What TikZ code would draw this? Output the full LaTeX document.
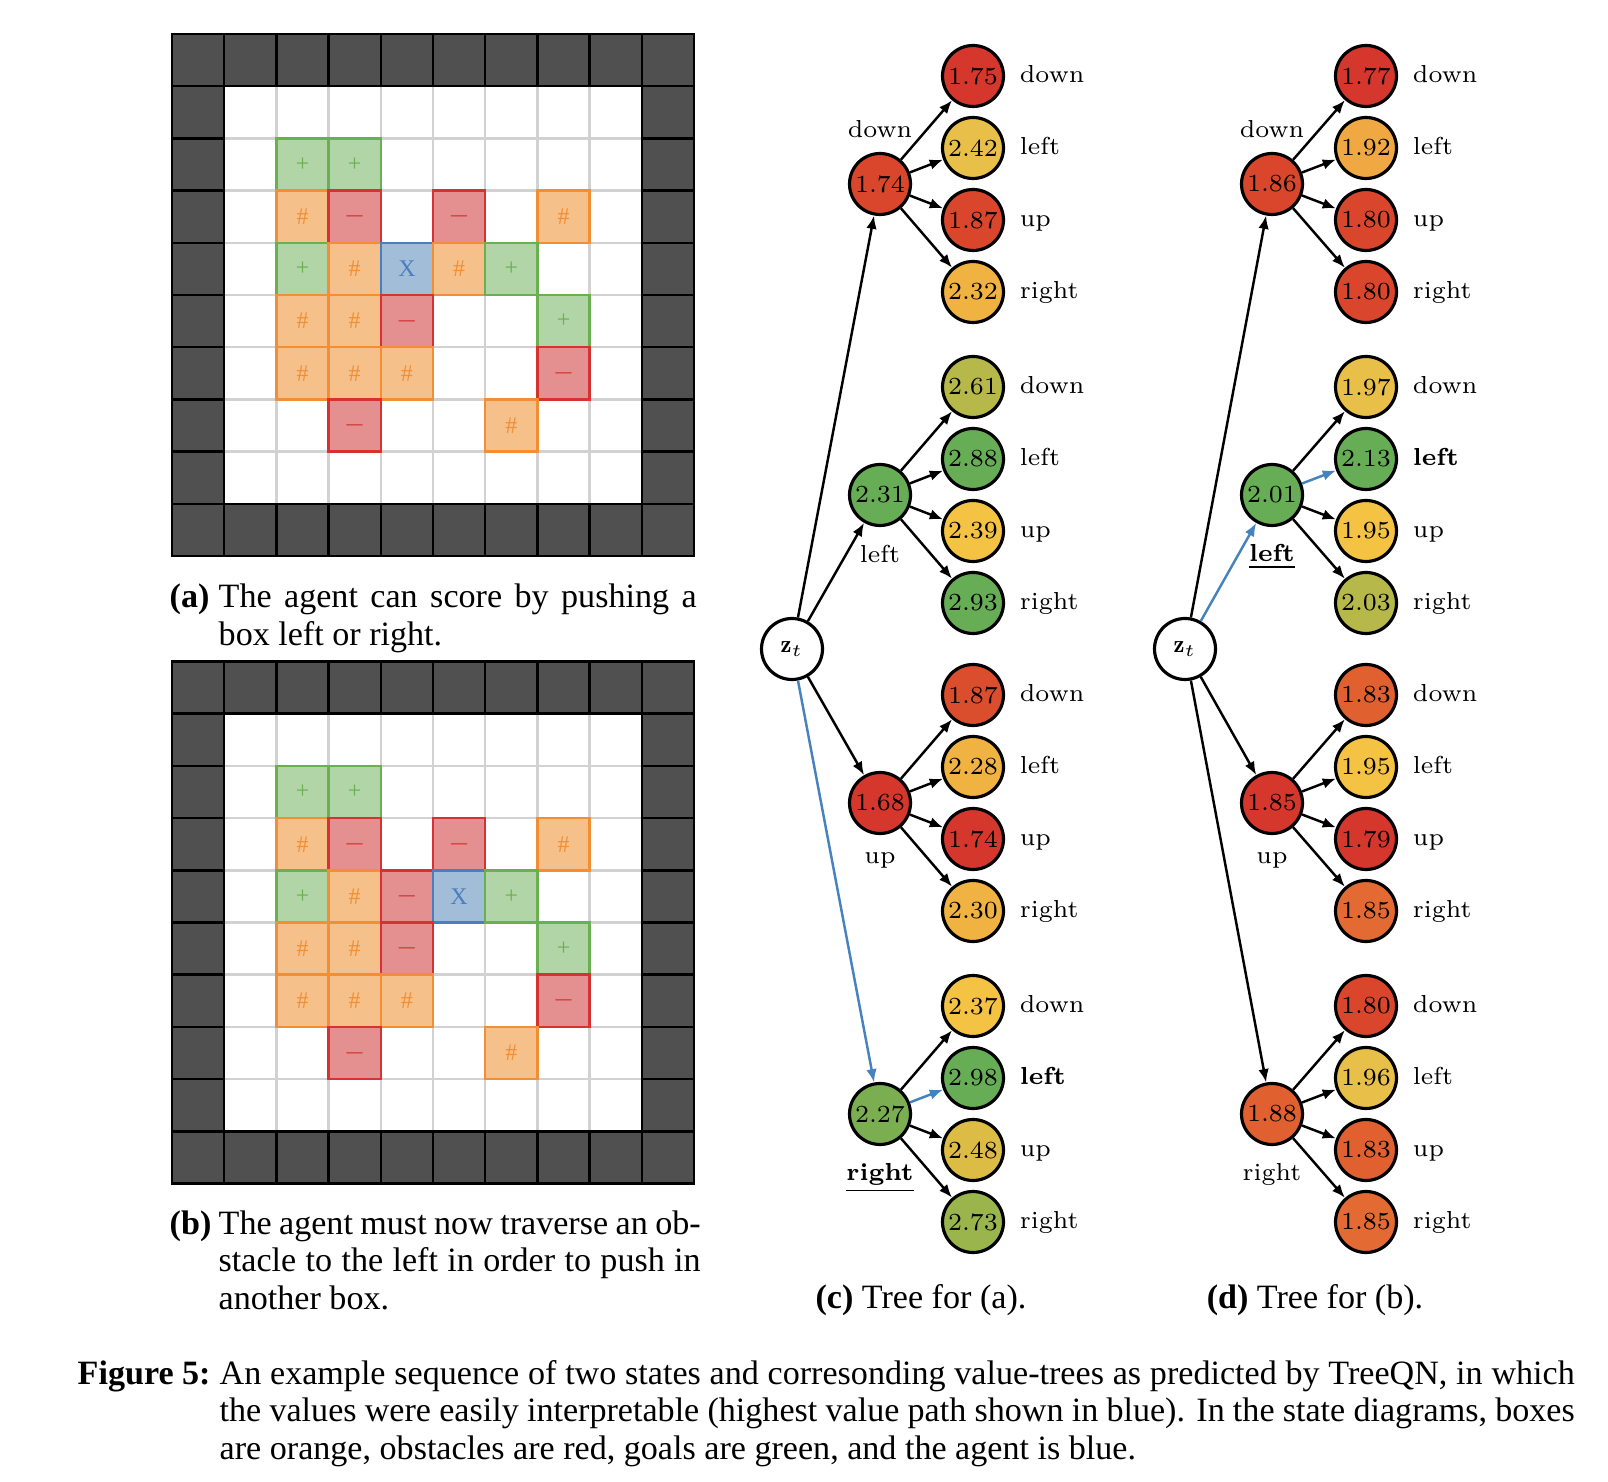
\documentclass[tikz,border=0pt]{standalone}
\usepackage{fontspec}
\usepackage{tikz}
\usetikzlibrary{arrows.meta}
\newfontfamily\capfont{Liberation Serif}

% grid colours
\definecolor{wallgray}{RGB}{80,80,80}
\definecolor{floorline}{RGB}{210,210,210}
\definecolor{goalfill}{RGB}{177,213,167}
\definecolor{goalline}{RGB}{106,176,80}
\definecolor{boxfill}{RGB}{245,192,137}
\definecolor{boxline}{RGB}{242,142,52}
\definecolor{obstfill}{RGB}{228,144,144}
\definecolor{obstline}{RGB}{214,50,50}
\definecolor{agentfill}{RGB}{161,189,216}
\definecolor{agentline}{RGB}{74,126,190}
% value colours
\definecolor{vred}{RGB}{214,55,44}
\definecolor{vredor}{RGB}{217,70,44}
\definecolor{vtomato}{RGB}{219,78,45}
\definecolor{vorange}{RGB}{224,97,47}
\definecolor{vcoral}{RGB}{227,107,51}
\definecolor{vamber}{RGB}{240,168,67}
\definecolor{vgold}{RGB}{240,178,65}
\definecolor{vyellow}{RGB}{245,195,68}
\definecolor{vmustard}{RGB}{232,192,73}
\definecolor{vkhaki}{RGB}{220,188,69}
\definecolor{volive}{RGB}{182,184,74}
\definecolor{vlime}{RGB}{154,181,76}
\definecolor{vleaf}{RGB}{122,174,80}
\definecolor{vgreen}{RGB}{103,173,86}
\definecolor{bestblue}{RGB}{70,130,190}

\begin{document}
\begin{tikzpicture}[
	wallcell/.style={draw=black, fill=wallgray, line width=0.7pt, minimum size=0.522cm, inner sep=0pt},
	floorcell/.style={draw=floorline, fill=white, line width=0.7pt, minimum size=0.522cm, inner sep=0pt},
	thing/.style={line width=0.7pt, minimum size=0.522cm, inner sep=0pt, font=\capfont\fontsize{6.8}{7}\selectfont},
	goal/.style={thing, draw=goalline, fill=goalfill, text=goalline},
	crate/.style={thing, draw=boxline, fill=boxfill, text=boxline},
	obst/.style={thing, draw=obstline, fill=obstfill, text=obstline},
	agent/.style={thing, draw=agentline, fill=agentfill, text=agentline},
	val/.style={circle, draw, line width=0.9pt, minimum size=0.61cm, inner sep=0pt, font=\fontsize{7}{8}\selectfont},
	act/.style={label={[label distance=0.7pt, text height=5pt, text depth=1.5pt]right:#1}},
	above act/.style={label={[label distance=0.4pt]above:#1}},
	below act/.style={label={[label distance=1.5pt]below:#1}},
	arr/.style={-{Latex[length=3.8pt,width=3pt]}, line width=0.7pt},
	best/.style={arr, draw=bestblue},
	every label/.style={font=\fontsize{7}{8}\selectfont},
	captext/.style={font=\capfont\fontsize{9.7}{10.67}\selectfont, inner sep=0pt, anchor=base west}
]
\useasboundingbox (0,0) rectangle (16.08,-14.82);

% state (a)
\begin{scope}[shift={(1.72,-0.34)}, x=0.522cm, y=-0.522cm]
	\foreach \c in {1,...,8}
		\foreach \r in {1,...,8}
			\node[floorcell] at (\c+.5,\r+.5) {};
	\foreach \c in {0,...,9} {
		\node[wallcell] at (\c+.5,0.5) {};
		\node[wallcell] at (\c+.5,9.5) {};
		\node[wallcell] at (0.5,\c+.5) {};
		\node[wallcell] at (9.5,\c+.5) {};
	}
	\foreach \c/\r/\k/\sym in {2/2/goal/+, 3/2/goal/+,
		2/3/crate/\#, 3/3/obst/$-$, 5/3/obst/$-$, 7/3/crate/\#,
		2/4/goal/+, 3/4/crate/\#, 4/4/agent/X, 5/4/crate/\#, 6/4/goal/+,
		2/5/crate/\#, 3/5/crate/\#, 4/5/obst/$-$, 7/5/goal/+,
		2/6/crate/\#, 3/6/crate/\#, 4/6/crate/\#, 7/6/obst/$-$,
		3/7/obst/$-$, 6/7/crate/\#}
		\node[\k] at (\c+.5,\r+.5) {\sym};
\end{scope}

% state (b)
\begin{scope}[shift={(1.72,-6.615)}, x=0.522cm, y=-0.522cm]
	\foreach \c in {1,...,8}
		\foreach \r in {1,...,8}
			\node[floorcell] at (\c+.5,\r+.5) {};
	\foreach \c in {0,...,9} {
		\node[wallcell] at (\c+.5,0.5) {};
		\node[wallcell] at (\c+.5,9.5) {};
		\node[wallcell] at (0.5,\c+.5) {};
		\node[wallcell] at (9.5,\c+.5) {};
	}
	\foreach \c/\r/\k/\sym in {2/2/goal/+, 3/2/goal/+,
		2/3/crate/\#, 3/3/obst/$-$, 5/3/obst/$-$, 7/3/crate/\#,
		2/4/goal/+, 3/4/crate/\#, 4/4/obst/$-$, 5/4/agent/X, 6/4/goal/+,
		2/5/crate/\#, 3/5/crate/\#, 4/5/obst/$-$, 7/5/goal/+,
		2/6/crate/\#, 3/6/crate/\#, 4/6/crate/\#, 7/6/obst/$-$,
		3/7/obst/$-$, 6/7/crate/\#}
		\node[\k] at (\c+.5,\r+.5) {\sym};
\end{scope}

% tree (c)
\begin{scope}[shift={(7.92,-6.49)}]
	\node[val, fill=white] (zc) at (0,0) {$\mathbf{z}_t$};
	\node[val, fill=vredor, above act=down] (cD) at (0.88,4.65) {1.74};
	\node[val, fill=vgreen, below act=left] (cL) at (0.88,1.54) {2.31};
	\node[val, fill=vred, below act=up] (cU) at (0.88,-1.54) {1.68};
	\node[val, fill=vleaf, below act={\underline{\textbf{right}}}] (cR) at (0.88,-4.65) {2.27};

	\node[val, fill=vred, act=down] (cDd) at (1.81,5.73) {1.75};
	\node[val, fill=vmustard, act=left] (cDl) at (1.81,5.01) {2.42};
	\node[val, fill=vredor, act=up] (cDu) at (1.81,4.29) {1.87};
	\node[val, fill=vgold, act=right] (cDr) at (1.81,3.57) {2.32};

	\node[val, fill=volive, act=down] (cLd) at (1.81,2.62) {2.61};
	\node[val, fill=vgreen, act=left] (cLl) at (1.81,1.90) {2.88};
	\node[val, fill=vyellow, act=up] (cLu) at (1.81,1.18) {2.39};
	\node[val, fill=vgreen, act=right] (cLr) at (1.81,0.46) {2.93};

	\node[val, fill=vtomato, act=down] (cUd) at (1.81,-0.46) {1.87};
	\node[val, fill=vgold, act=left] (cUl) at (1.81,-1.18) {2.28};
	\node[val, fill=vred, act=up] (cUu) at (1.81,-1.90) {1.74};
	\node[val, fill=vgold, act=right] (cUr) at (1.81,-2.62) {2.30};

	\node[val, fill=vyellow, act=down] (cRd) at (1.81,-3.57) {2.37};
	\node[val, fill=vgreen, act={\textbf{left}}] (cRl) at (1.81,-4.29) {2.98};
	\node[val, fill=vkhaki, act=up] (cRu) at (1.81,-5.01) {2.48};
	\node[val, fill=vlime, act=right] (cRr) at (1.81,-5.73) {2.73};
\end{scope}

\draw[arr] (zc) -- (cD);
\draw[arr] (zc) -- (cL);
\draw[arr] (zc) -- (cU);
\draw[best] (zc) -- (cR);
\foreach \m in {cD,cL,cU}
	\foreach \l in {d,l,u,r}
		\draw[arr] (\m) -- (\m\l);
\draw[arr] (cR) -- (cRd);
\draw[best] (cR) -- (cRl);
\draw[arr] (cR) -- (cRu);
\draw[arr] (cR) -- (cRr);

% tree (d)
\begin{scope}[shift={(11.85,-6.49)}]
	\node[val, fill=white] (zd) at (0,0) {$\mathbf{z}_t$};
	\node[val, fill=vredor, above act=down] (dD) at (0.87,4.65) {1.86};
	\node[val, fill=vgreen, below act={\underline{\textbf{left}}}] (dL) at (0.87,1.54) {2.01};
	\node[val, fill=vred, below act=up] (dU) at (0.87,-1.54) {1.85};
	\node[val, fill=vorange, below act=right] (dR) at (0.87,-4.65) {1.88};

	\node[val, fill=vred, act=down] (dDd) at (1.81,5.73) {1.77};
	\node[val, fill=vamber, act=left] (dDl) at (1.81,5.01) {1.92};
	\node[val, fill=vredor, act=up] (dDu) at (1.81,4.29) {1.80};
	\node[val, fill=vredor, act=right] (dDr) at (1.81,3.57) {1.80};

	\node[val, fill=vmustard, act=down] (dLd) at (1.81,2.62) {1.97};
	\node[val, fill=vgreen, act={\textbf{left}}] (dLl) at (1.81,1.90) {2.13};
	\node[val, fill=vyellow, act=up] (dLu) at (1.81,1.18) {1.95};
	\node[val, fill=volive, act=right] (dLr) at (1.81,0.46) {2.03};

	\node[val, fill=vorange, act=down] (dUd) at (1.81,-0.46) {1.83};
	\node[val, fill=vyellow, act=left] (dUl) at (1.81,-1.18) {1.95};
	\node[val, fill=vred, act=up] (dUu) at (1.81,-1.90) {1.79};
	\node[val, fill=vcoral, act=right] (dUr) at (1.81,-2.62) {1.85};

	\node[val, fill=vredor, act=down] (dRd) at (1.81,-3.57) {1.80};
	\node[val, fill=vmustard, act=left] (dRl) at (1.81,-4.29) {1.96};
	\node[val, fill=vorange, act=up] (dRu) at (1.81,-5.01) {1.83};
	\node[val, fill=vcoral, act=right] (dRr) at (1.81,-5.73) {1.85};
\end{scope}

\draw[arr] (zd) -- (dD);
\draw[best] (zd) -- (dL);
\draw[arr] (zd) -- (dU);
\draw[arr] (zd) -- (dR);
\foreach \m in {dD,dU,dR}
	\foreach \l in {d,l,u,r}
		\draw[arr] (\m) -- (\m\l);
\draw[arr] (dL) -- (dLd);
\draw[best] (dL) -- (dLl);
\draw[arr] (dL) -- (dLu);
\draw[arr] (dL) -- (dLr);

% sub-captions
\node[captext] (capa) at (1.69,-6.08) {\textbf{(a)}};
\node[captext] (capatext) at (2.18,-6.08) {\begin{tabular}[t]{@{}p{4.78cm}@{}}The agent can score by pushing a\linebreak box left or right.\end{tabular}};
\node[captext] (capb) at (1.69,-12.34) {\textbf{(b)}};
\node[captext] (capbtext) at (2.18,-12.34) {\begin{tabular}[t]{@{}p{4.82cm}@{}}The agent must now traverse an ob-\linebreak stacle to the left in order to push in\linebreak another box.\end{tabular}};
\node[captext, anchor=base] (capc) at (9.21,-13.08) {\textbf{(c)} Tree for (a).};
\node[captext, anchor=base] (capd) at (13.15,-13.08) {\textbf{(d)} Tree for (b).};

% figure caption
\node[captext] (figlab) at (0.77,-13.84) {\textbf{Figure 5:}};
\node[captext] (figtext) at (2.19,-13.84) {\begin{tabular}[t]{@{}p{13.55cm}@{}}An example sequence of two states and corresonding value-trees as predicted by TreeQN, in which\linebreak the values were easily interpretable (highest value path shown in blue). In the state diagrams, boxes\linebreak are orange, obstacles are red, goals are green, and the agent is blue.\end{tabular}};
\end{tikzpicture}
\end{document}
